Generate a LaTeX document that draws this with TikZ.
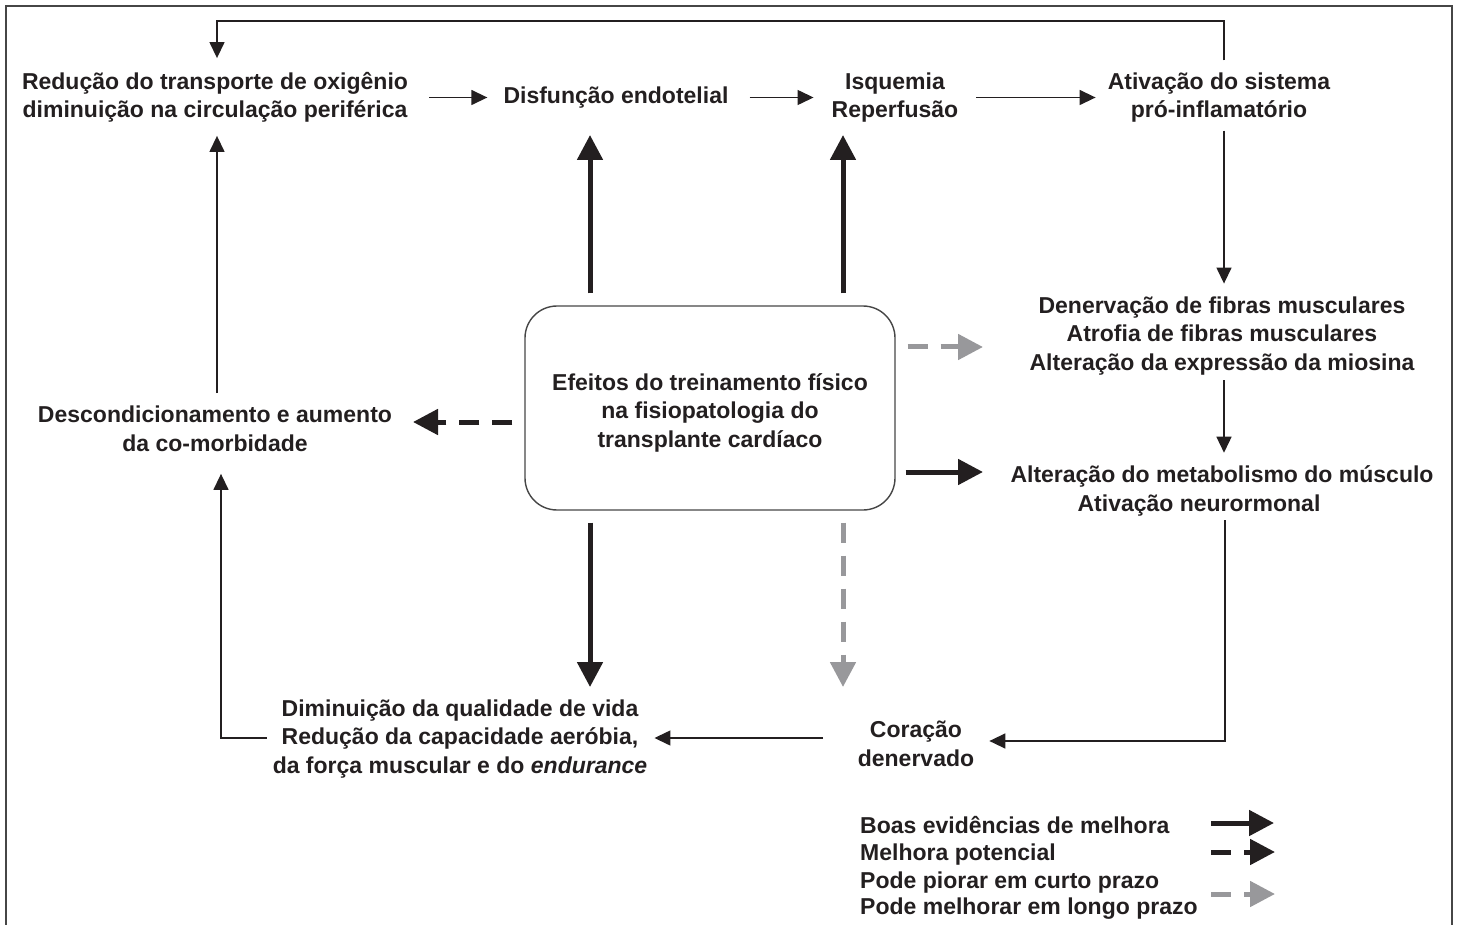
\documentclass[tikz,border=0pt]{standalone}
\usepackage{fontspec}
\setmainfont{Liberation Sans}
\usetikzlibrary{arrows.meta}
\definecolor{ink}{RGB}{35,31,32}
\definecolor{lgray}{RGB}{152,152,155}
\definecolor{framec}{RGB}{70,70,70}
\begin{document}
\begin{tikzpicture}[x=1pt,y=-1pt,
  txt/.style={font=\fontsize{23}{28.5}\selectfont\bfseries, align=center, inner sep=0pt, text=ink},
  legtxt/.style={font=\fontsize{23}{27}\selectfont\bfseries, inner sep=0pt, text=ink, anchor=base west},
  conn/.style={line width=1.4pt, color=ink, -{Triangle[length=16pt,width=15pt]}},
  bigarr/.style={line width=5pt, color=ink, -{Triangle[length=25pt,width=25pt]}},
  bigdash/.style={bigarr, dash pattern=on 20pt off 13pt},
  graydash/.style={bigdash, color=lgray},
]
\useasboundingbox (0,0) rectangle (1457,925);
\draw[framec, line width=1.5pt] (6,925) -- (6,6) -- (1452,6) -- (1452,925);

% nodes
\node[txt] (N1) at (215,97.5) {Redução do transporte de oxigênio\\diminuição na circulação periférica};
\node[txt] (N2) at (616,97.5) {Disfunção endotelial};
\node[txt] (N3) at (895,97.5) {Isquemia\\Reperfusão};
\node[txt] (N4) at (1219,97.5) {Ativação do sistema\\pró-inflamatório};
\node[txt] (N5) at (1222,336) {Denervação de fibras musculares\\Atrofia de fibras musculares\\Alteração da expressão da miosina};
\node[txt] (N6) at (1222,491) {Alteração do metabolismo do músculo\\Ativação neurormonal\hspace*{46pt}};
\node[txt] (N7) at (916,744) {Coração\\denervado};
\node[txt] (N8) at (460,739) {Diminuição da qualidade de vida\\Redução da capacidade aeróbia,\\da força muscular e do \textit{endurance}};
\node[txt] (N9) at (215,429) {Descondicionamento e aumento\\da co-morbidade};
\node[txt, draw=framec, line width=1.4pt, rounded corners=32pt,
      minimum width=370pt, minimum height=204pt] (box) at (710,408)
      {\rule{0pt}{26pt}Efeitos do treinamento físico\\na fisiopatologia do\\transplante cardíaco};

% coordinates
\coordinate (lr) at (1224,21);
\coordinate (ll) at (217,21);
\coordinate (bl) at (221,738);
\coordinate (br) at (1225,741);
\coordinate (c78) at (823,738);
\coordinate (tU1) at (590,135);
\coordinate (tU2) at (843,135);
\coordinate (tD1) at (590,687);
\coordinate (tD2) at (843,687);
\coordinate (tR1) at (983,347);
\coordinate (tR2) at (983,472);
\coordinate (tL) at (413,422);

% thin connectors
\draw[conn, shorten <=21pt, shorten >=16pt] (N1.east) -- (N2.west);
\draw[conn, shorten <=21pt, shorten >=18pt] (N2.east) -- (N3.west);
\draw[conn, shorten <=18pt, shorten >=12pt] (N3.east) -- (N4.west);
\draw[conn, shorten <=12pt, shorten >=14pt] (N4.north -| lr) -- (lr) -- (ll) -- (N1.north -| ll);
\draw[conn, shorten <=13pt, shorten >=13pt] (N9.north -| ll) -- (N1.south -| ll);
\draw[conn, shorten <=6pt, shorten >=22pt] (N8.west |- bl) -- (bl) -- (N9.south -| bl);
\draw[conn, shorten <=8pt, shorten >=13pt] (N4.south -| lr) -- (N5.north -| lr);
\draw[conn, shorten <=5pt, shorten >=13pt] (N5.south -| lr) -- (N6.north -| lr);
\draw[conn, shorten <=4pt, shorten >=15pt] (N6.south -| br) -- (br) -- (N7.east |- br);
\draw[conn, shorten >=7pt] (c78) -- (N8.east |- c78);

% thick connectors from the central box
\draw[bigarr, shorten <=12pt] (box.north -| tU1) -- (tU1);
\draw[bigarr, shorten <=12pt] (box.north -| tU2) -- (tU2);
\draw[bigarr, shorten <=12pt] (box.south -| tD1) -- (tD1);
\draw[graydash, shorten <=12pt] (box.south -| tD2) -- (tD2);
\draw[graydash, shorten <=12pt] (box.east |- tR1) -- (tR1);
\draw[bigarr, shorten <=10pt] (box.east |- tR2) -- (tR2);
\draw[bigdash, shorten <=12pt] (box.west |- tL) -- (tL);

% legend
\node[legtxt] (L1) at (860,833) {Boas evidências de melhora};
\node[legtxt] (L2) at (860,860) {Melhora potencial};
\node[legtxt] (L3) at (860,888) {Pode piorar em curto prazo};
\node[legtxt] (L4) at (860,914) {Pode melhorar em longo prazo};
\coordinate (g1a) at (1211,823);
\coordinate (g1b) at (1274,823);
\coordinate (g2a) at (1211,852);
\coordinate (g2b) at (1275,852);
\coordinate (g3a) at (1211,894);
\coordinate (g3b) at (1275,894);
\draw[bigarr] (g1a) -- (g1b);
\draw[bigdash] (g2a) -- (g2b);
\draw[graydash] (g3a) -- (g3b);
\end{tikzpicture}
\end{document}
